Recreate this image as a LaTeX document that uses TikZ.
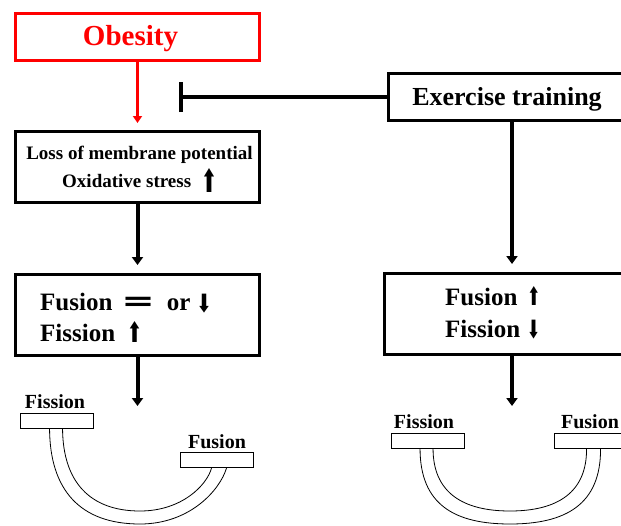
\documentclass[tikz,border=0pt]{standalone}
\usepackage{fontspec}
\usepackage{graphicx}
\setmainfont{Liberation Serif}
\newfontfamily\djv{DejaVu Sans}
\usetikzlibrary{arrows.meta}
\newcommand{\arrglyph}[4]{\raisebox{-#4}{\resizebox*{#2}{#3}{\djv #1}}}
\newcommand{\bigeq}{{\djv\bfseries\scalebox{1.6}[1.1]{=}}}
\begin{document}
\begin{tikzpicture}[x=1pt,y=-1pt,
  bigbox/.style={draw, line width=3pt, inner sep=0pt, minimum width=244pt},
  smallbox/.style={draw, line width=0.9pt, inner sep=0pt, minimum width=73pt, minimum height=15pt},
  txt/.style={font=\bfseries, inner sep=0pt},
  blackarrow/.style={line width=4pt, -{Triangle[width=11pt,length=8pt]}},
  tube/.style={line width=0.8pt}]
\clip (0,0) rectangle (621,525);
% boxes
\node[bigbox, draw=red, minimum height=47pt] (obesity) at (137.5,37) {};
\node[bigbox, minimum height=71pt] (loss) at (137.5,167) {};
\node[bigbox, minimum height=81pt] (leftfus) at (137.5,315) {};
\node[bigbox, minimum width=247pt, minimum height=47pt] (exercise) at (512,97) {};
\node[bigbox, minimum width=255pt, minimum height=81pt] (rightfus) at (512,314) {};
% texts
\node[txt, anchor=base, text=red, font=\bfseries\fontsize{29}{29}\selectfont] (tobesity) at (130.5,45) {Obesity};
\node[txt, anchor=base, font=\bfseries\fontsize{26}{26}\selectfont] (texercise) at (507,105) {Exercise training};
\node[txt, anchor=base, font=\bfseries\fontsize{19}{19}\selectfont] (tloss) at (139.5,159) {Loss of membrane potential};
\node[txt, anchor=base west, font=\bfseries\fontsize{19}{19}\selectfont] (tox) at (62,187) {Oxidative stress\hspace{10pt}\arrglyph{⬆}{16pt}{24pt}{5pt}};
\node[txt, anchor=base west, font=\bfseries\fontsize{25}{25}\selectfont] (tlfus) at (40,310) {Fusion\hspace{9pt}\bigeq\hspace{12pt}or\hspace{6pt}\arrglyph{⬇}{15pt}{19pt}{2pt}};
\node[txt, anchor=base west, font=\bfseries\fontsize{25}{25}\selectfont] (tlfis) at (40,341) {Fission\hspace{12pt}\arrglyph{⬆}{15pt}{21pt}{1pt}};
\node[txt, anchor=base west, font=\bfseries\fontsize{25}{25}\selectfont] (trfus) at (445,305) {Fusion\hspace{10pt}\arrglyph{⬆}{13pt}{19pt}{0pt}};
\node[txt, anchor=base west, font=\bfseries\fontsize{25}{25}\selectfont] (trfis) at (445,337) {Fission\hspace{7pt}\arrglyph{⬇}{13pt}{19pt}{1pt}};
% connectors
\coordinate (inhib) at (179,97);
\coordinate (leftend) at (137.5,406);
\coordinate (rightend) at (512,406);
\draw[red, line width=3pt, -{Triangle[width=9pt,length=7pt]}, shorten >=7pt] (obesity.south) -- (loss.north);
\draw[line width=4pt, -{Bar[width=30pt]}] (exercise.west) -- (inhib);
\draw[blackarrow, shorten >=8pt] (loss.south) -- (leftfus.north);
\draw[blackarrow] (leftfus.south) -- (leftend);
\draw[blackarrow, shorten >=8pt] (exercise.south) -- (rightfus.north);
\draw[blackarrow] (rightfus.south) -- (rightend);
% bottom left
\node[smallbox] (lfis) at (56.5,421) {};
\node[smallbox] (lfus) at (216.5,460) {};
\node[txt, anchor=base, font=\bfseries\fontsize{20}{20}\selectfont] (tlfisb) at (55,408) {Fission};
\node[txt, anchor=base, font=\bfseries\fontsize{20}{20}\selectfont] (tlfusb) at (217,448) {Fusion};
\draw[tube] ([xshift=30pt]lfis.south west) .. controls (50,490) and (80,524) .. (140,524) .. controls (190,524) and (220,490) .. ([xshift=47pt]lfus.south west);
\draw[tube] ([xshift=43pt]lfis.south west) .. controls (63,482) and (90,511) .. (140,511) .. controls (182,511) and (207,485) .. ([xshift=32pt]lfus.south west);
% bottom right
\node[smallbox] (rfis) at (428,440.5) {};
\node[smallbox, minimum width=80pt] (rfus) at (594,440.5) {};
\node[txt, anchor=base, font=\bfseries\fontsize{20}{20}\selectfont] (trfisb) at (424,428) {Fission};
\node[txt, anchor=base, font=\bfseries\fontsize{20}{20}\selectfont] (trfusb) at (590,428) {Fusion};
\draw[tube] ([xshift=29pt]rfis.south west) .. controls (420,505) and (455,524) .. (510,524) .. controls (565,524) and (601,505) .. ([xshift=47pt]rfus.south west);
\draw[tube] ([xshift=42pt]rfis.south west) .. controls (433,492) and (462,511) .. (510,511) .. controls (558,511) and (587,492) .. ([xshift=33pt]rfus.south west);
\end{tikzpicture}
\end{document}
